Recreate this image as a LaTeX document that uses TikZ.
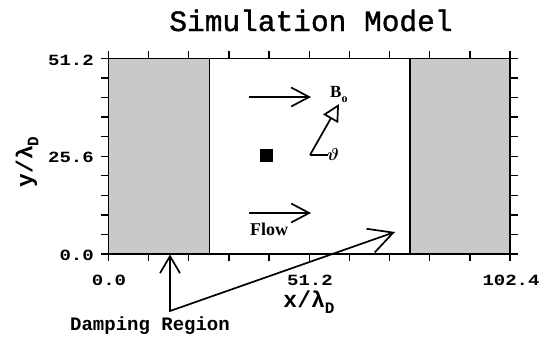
\documentclass[tikz,border=0pt]{standalone}
\usepackage{fontspec}
\usepackage{graphicx}
\setmonofont{Liberation Mono}
\newfontfamily\titlefont[FakeBold=1.2]{Liberation Mono}
\newfontfamily\heavyserif{Liberation Serif}
\usetikzlibrary{arrows.meta}
\newcommand{\tklab}[1]{\scalebox{1}[0.82]{#1}}
\begin{document}
\begin{tikzpicture}[x=1pt,y=-1pt,
  ticklbl/.style={font=\ttfamily\bfseries\fontsize{19}{19}\selectfont, inner sep=0pt},
  axlbl/.style={font=\ttfamily\bfseries\fontsize{23}{23}\selectfont, inner sep=0pt},
  framebox/.style={line width=1.5pt},
  tickmark/.style={line width=1.3pt},
  shadefill/.style={fill=black!21},
  barb/.style={line width=1.7pt, -{Straight Barb[length=18pt,width=19pt,line width=1.7pt]}},
  bigbarb/.style={line width=1.7pt, {Straight Barb[length=17pt,width=20pt,line width=1.7pt]}-{Straight Barb[length=24pt,width=25pt,line width=1.7pt]}},
  trihead/.style={line width=1.7pt, -{Triangle[open,length=17pt,width=17pt,line width=1.7pt]}},
]
\useasboundingbox (0,0) rectangle (541,338);
% title
\node[font=\titlefont\fontsize{29.5}{29.5}\selectfont, anchor=base, inner sep=0pt] (title) at (311,31) {Simulation Model};
% damping regions
\fill[shadefill] (108.5,58.3) rectangle (209.5,254);
\fill[shadefill] (410,58.3) rectangle (510,254);
\draw[framebox] (209.5,58.3) rectangle (410,254);
\draw[framebox] (108.5,58.3) rectangle (510,254);
% ticks
\foreach \i in {0,...,10} {
  \draw[tickmark] ({108.5+\i*40.15},254) -- ++(0,7);
  \draw[tickmark] ({108.5+\i*40.15},58.3) -- ++(0,-7);
  \draw[tickmark] (108.5,{58.3+\i*19.57}) -- ++(-8,0);
  \draw[tickmark] (510,{58.3+\i*19.57}) -- ++(8,0);
}
% tick labels
\node[ticklbl, anchor=east] (y1) at (94,60) {\tklab{51.2}};
\node[ticklbl, anchor=east] (y2) at (94,157) {\tklab{25.6}};
\node[ticklbl, anchor=east] (y3) at (94,255) {\tklab{0.0}};
\node[ticklbl] (x1) at (109,280) {\tklab{0.0}};
\node[ticklbl] (x2) at (310,280) {\tklab{51.2}};
\node[ticklbl] (x3) at (511,280) {\tklab{102.4}};
% axis labels
\node[axlbl] (xl) at (309,302) {x/λ\raisebox{-6pt}{\fontsize{16}{16}\selectfont D}};
\node[axlbl, rotate=90] (yl) at (27,162) {y/λ\raisebox{-6pt}{\fontsize{16}{16}\selectfont D}};
% inner content
\coordinate (a1s) at (249,97);
\coordinate (a1e) at (311,97);
\draw[barb] (a1s) -- (a1e);
\coordinate (a2s) at (249,213);
\coordinate (a2e) at (311,213);
\draw[barb] (a2s) -- (a2e);
\node[font=\heavyserif\bfseries\fontsize{18}{18}\selectfont, anchor=base west, inner sep=0pt] (flow) at (250,235) {Flow};
\node[fill=black, minimum size=13pt, inner sep=0pt] (sq) at (266,155.5) {};
\coordinate (bo) at (310,155);
\coordinate (bt) at (339,104);
\coordinate (be) at (328,155);
\draw[trihead] (bo) -- (bt);
\draw[line width=1.7pt] (bo) -- (be);
\node[font={\boldmath\fontsize{19}{19}\selectfont}, inner sep=0pt, anchor=west] (th) at (327,154) {$\vartheta$};
\node[font=\heavyserif\bfseries\fontsize{17}{17}\selectfont, anchor=base west, inner sep=0pt] (B) at (330,97) {B\raisebox{-5pt}{\fontsize{12}{12}\selectfont o}};
% damping region pointer
\node[ticklbl] (dr) at (150,326) {Damping Region};
\coordinate (corner) at (170,311);
\coordinate (t1) at (170,254.5);
\coordinate (t2) at (395,232);
\draw[bigbarb] (t1) -- (corner) -- (t2);
\end{tikzpicture}
\end{document}
